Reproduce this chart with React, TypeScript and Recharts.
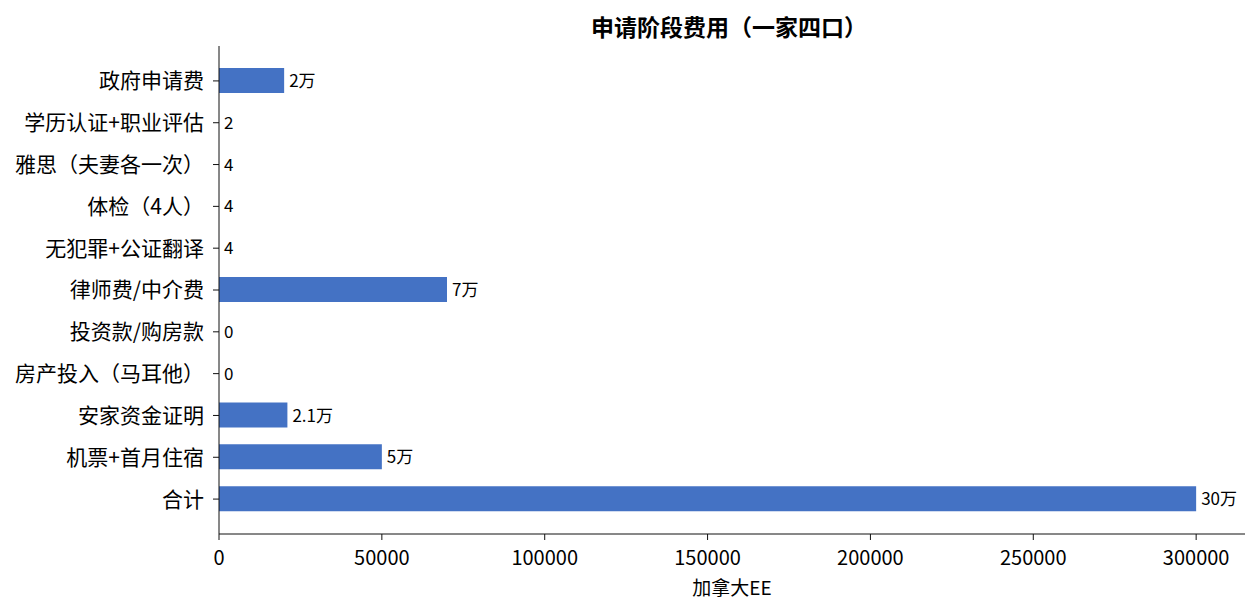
import { BarChart, Bar, XAxis, YAxis, LabelList, Label } from "recharts";

const categories = [
    "政府申请费",
    "学历认证+职业评估",
    "雅思（夫妻各一次）",
    "体检（4人）",
    "无犯罪+公证翻译",
    "律师费/中介费",
    "投资款/购房款",
    "房产投入（马耳他）",
    "安家资金证明",
    "机票+首月住宿",
    "合计",
];
const costs = [20000, 2, 4, 4, 4, 70000, 0, 0, 21000, 50000, 300000];
const costLabels = ["2万", "2", "4", "4", "4", "7万", "0", "0", "2.1万", "5万", "30万"];
const xTicks = [0, 50000, 100000, 150000, 200000, 250000, 300000];

const font = '"Noto Sans CJK SC", "Noto Sans", sans-serif';

const data = categories.map((name, i) => ({ name, value: costs[i], label: costLabels[i] }));

function ValueLabel(props: any) {
    const { x, y, width, height, value } = props;
    return (
        <text
            x={Number(x) + Number(width) + 5}
            y={Number(y) + Number(height) / 2 - 1}
            dominantBaseline="central"
            fontSize={17}
            fontFamily={font}
            fill="#000"
        >
            {value}
        </text>
    );
}

export default function App() {
    return (
        <div style={{ position: "absolute", left: 0, top: 0, width: 1260, height: 615, background: "#fff" }}>
            <div
                style={{
                    position: "absolute",
                    left: 219,
                    width: 1020,
                    top: 9,
                    textAlign: "center",
                    fontFamily: font,
                    fontWeight: 700,
                    fontSize: 23,
                    color: "#000",
                }}
            >
                申请阶段费用（一家四口）
            </div>
            <BarChart
                width={1260}
                height={615}
                data={data}
                layout="vertical"
                margin={{ top: 46, right: 15, bottom: 11, left: 0 }}
                barCategoryGap={0}
            >
                <XAxis
                    type="number"
                    domain={[0, 315000]}
                    ticks={xTicks}
                    height={70}
                    tickSize={6}
                    tickMargin={11}
                    stroke="#111"
                    tick={{ fill: "#000", fontSize: 20, fontFamily: font }}
                    interval={0}
                >
                    <Label
                        value="加拿大EE"
                        position="insideBottom"
                        offset={9}
                        style={{ fill: "#000", fontSize: 19, fontFamily: font }}
                    />
                </XAxis>
                <YAxis
                    type="category"
                    dataKey="name"
                    width={219}
                    padding={{ top: 14, bottom: 14 }}
                    tickSize={6}
                    tickMargin={9}
                    stroke="#111"
                    tick={{ fill: "#000", fontSize: 21, fontFamily: font }}
                    interval={0}
                />
                <Bar dataKey="value" fill="#4472C4" barSize={25} minPointSize={0.01} isAnimationActive={false}>
                    <LabelList dataKey="label" content={ValueLabel} />
                </Bar>
            </BarChart>
        </div>
    );
}
